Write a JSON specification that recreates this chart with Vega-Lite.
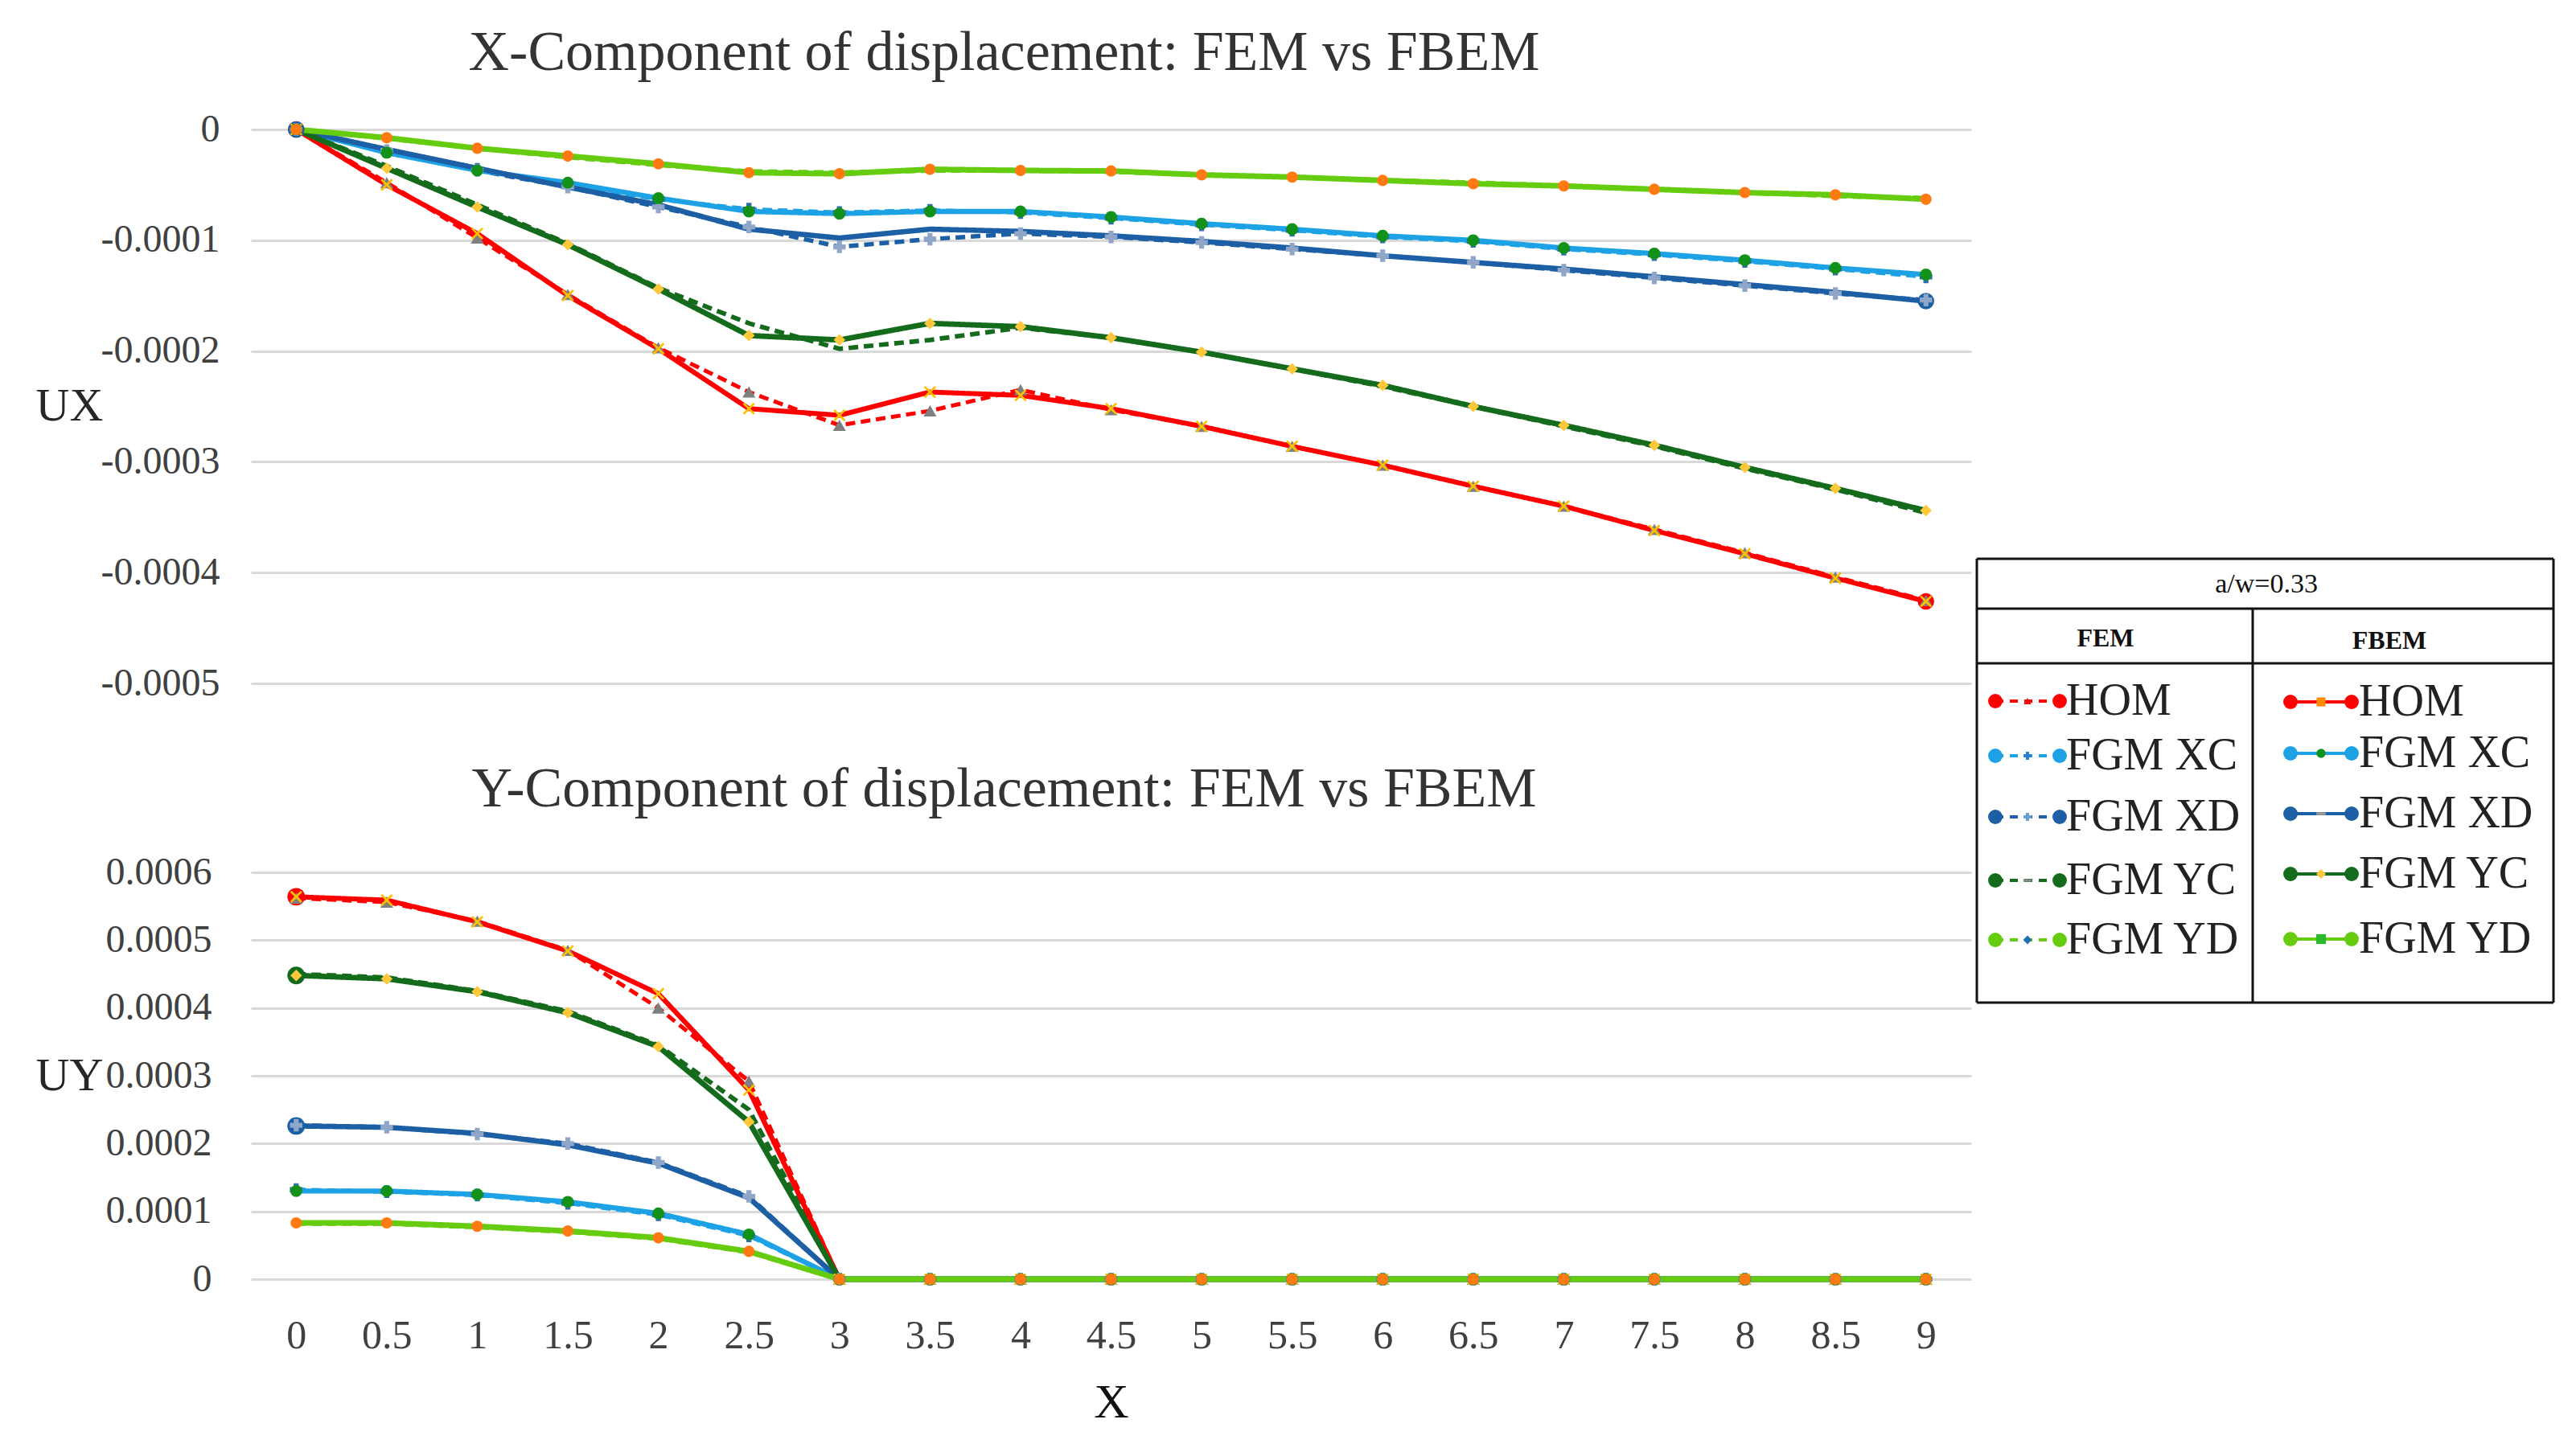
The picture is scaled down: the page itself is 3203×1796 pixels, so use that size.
{
  "$schema": "https://vega.github.io/schema/vega-lite/v6.json",
  "background": "white",
  "padding": {"left": 44, "top": 31, "right": 0, "bottom": 0},
  "config": {
    "view": {"stroke": null},
    "axis": {"domain": false, "ticks": false, "tickSize": 0, "gridColor": "#D9D9D9", "gridWidth": 3, "labelFont": "Liberation Serif", "labelFontSize": 48, "labelColor": "#404040", "titleFont": "Liberation Serif", "titleFontWeight": "normal", "titleColor": "#262626"},
    "title": {"font": "Liberation Serif", "fontSize": 70, "fontWeight": "normal", "color": "#333333", "anchor": "middle"}
  },
  "datasets": {
    "disp": [
      {"c": "UX", "x": 0, "FEM HOM": 0, "FEM XC": 0, "FEM XD": 0, "FEM YC": 0, "FEM YD": 0, "FBEM HOM": 0, "FBEM XC": 0, "FBEM XD": 0, "FBEM YC": 0, "FBEM YD": 0},
      {"c": "UX", "x": 0.5, "FEM HOM": -0.000048, "FEM XC": -0.00002, "FEM XD": -0.000019, "FEM YC": -0.000033, "FEM YD": -0.000008, "FBEM HOM": -0.00005, "FBEM XC": -0.000021, "FBEM XD": -0.000018, "FBEM YC": -0.000035, "FBEM YD": -0.0000075},
      {"c": "UX", "x": 1, "FEM HOM": -0.000098, "FEM XC": -0.000036, "FEM XD": -0.000037, "FEM YC": -0.000068, "FEM YD": -0.000017, "FBEM HOM": -0.000094, "FBEM XC": -0.000037, "FBEM XD": -0.000035, "FBEM YC": -0.00007, "FBEM YD": -0.000017},
      {"c": "UX", "x": 1.5, "FEM HOM": -0.000149, "FEM XC": -0.00005, "FEM XD": -0.000052, "FEM YC": -0.000103, "FEM YD": -0.000025, "FBEM HOM": -0.00015, "FBEM XC": -0.000048, "FBEM XD": -0.000052, "FBEM YC": -0.000104, "FBEM YD": -0.000024},
      {"c": "UX", "x": 2, "FEM HOM": -0.000197, "FEM XC": -0.000063, "FEM XD": -0.00007, "FEM YC": -0.000143, "FEM YD": -0.000032, "FBEM HOM": -0.000198, "FBEM XC": -0.000062, "FBEM XD": -0.000068, "FBEM YC": -0.000144, "FBEM YD": -0.000031},
      {"c": "UX", "x": 2.5, "FEM HOM": -0.000237, "FEM XC": -0.000072, "FEM XD": -0.000088, "FEM YC": -0.000175, "FEM YD": -0.000038, "FBEM HOM": -0.000252, "FBEM XC": -0.000074, "FBEM XD": -0.00009, "FBEM YC": -0.000186, "FBEM YD": -0.000039},
      {"c": "UX", "x": 3, "FEM HOM": -0.000267, "FEM XC": -0.000075, "FEM XD": -0.000106, "FEM YC": -0.000198, "FEM YD": -0.000039, "FBEM HOM": -0.000258, "FBEM XC": -0.000076, "FBEM XD": -0.000098, "FBEM YC": -0.00019, "FBEM YD": -0.00004},
      {"c": "UX", "x": 3.5, "FEM HOM": -0.000254, "FEM XC": -0.000073, "FEM XD": -0.000099, "FEM YC": -0.00019, "FEM YD": -0.000037, "FBEM HOM": -0.000237, "FBEM XC": -0.000074, "FBEM XD": -0.00009, "FBEM YC": -0.000175, "FBEM YD": -0.000036},
      {"c": "UX", "x": 4, "FEM HOM": -0.000235, "FEM XC": -0.000075, "FEM XD": -0.000094, "FEM YC": -0.000179, "FEM YD": -0.000037, "FBEM HOM": -0.00024, "FBEM XC": -0.000074, "FBEM XD": -0.000092, "FBEM YC": -0.000178, "FBEM YD": -0.000037},
      {"c": "UX", "x": 4.5, "FEM HOM": -0.000253, "FEM XC": -0.00008, "FEM XD": -0.000097, "FEM YC": -0.000188, "FEM YD": -0.000038, "FBEM HOM": -0.000252, "FBEM XC": -0.000079, "FBEM XD": -0.000096, "FBEM YC": -0.000188, "FBEM YD": -0.0000375},
      {"c": "UX", "x": 5, "FEM HOM": -0.000268, "FEM XC": -0.000086, "FEM XD": -0.000102, "FEM YC": -0.000201, "FEM YD": -0.000041, "FBEM HOM": -0.000268, "FBEM XC": -0.000085, "FBEM XD": -0.000101, "FBEM YC": -0.000201, "FBEM YD": -0.000041},
      {"c": "UX", "x": 5.5, "FEM HOM": -0.000286, "FEM XC": -0.000091, "FEM XD": -0.000108, "FEM YC": -0.000216, "FEM YD": -0.000043, "FBEM HOM": -0.000286, "FBEM XC": -0.00009, "FBEM XD": -0.000107, "FBEM YC": -0.000216, "FBEM YD": -0.000043},
      {"c": "UX", "x": 6, "FEM HOM": -0.000303, "FEM XC": -0.000097, "FEM XD": -0.000114, "FEM YC": -0.000232, "FEM YD": -0.000046, "FBEM HOM": -0.000303, "FBEM XC": -0.000096, "FBEM XD": -0.000114, "FBEM YC": -0.000231, "FBEM YD": -0.000046},
      {"c": "UX", "x": 6.5, "FEM HOM": -0.000322, "FEM XC": -0.000101, "FEM XD": -0.00012, "FEM YC": -0.00025, "FEM YD": -0.000048, "FBEM HOM": -0.000322, "FBEM XC": -0.0001, "FBEM XD": -0.00012, "FBEM YC": -0.00025, "FBEM YD": -0.000049},
      {"c": "UX", "x": 7, "FEM HOM": -0.00034, "FEM XC": -0.000108, "FEM XD": -0.000127, "FEM YC": -0.000268, "FEM YD": -0.000051, "FBEM HOM": -0.00034, "FBEM XC": -0.000107, "FBEM XD": -0.000126, "FBEM YC": -0.000267, "FBEM YD": -0.000051},
      {"c": "UX", "x": 7.5, "FEM HOM": -0.000361, "FEM XC": -0.000113, "FEM XD": -0.000134, "FEM YC": -0.000286, "FEM YD": -0.000054, "FBEM HOM": -0.000362, "FBEM XC": -0.000112, "FBEM XD": -0.000133, "FBEM YC": -0.000285, "FBEM YD": -0.000054},
      {"c": "UX", "x": 8, "FEM HOM": -0.000382, "FEM XC": -0.000119, "FEM XD": -0.000141, "FEM YC": -0.000306, "FEM YD": -0.000057, "FBEM HOM": -0.000383, "FBEM XC": -0.000118, "FBEM XD": -0.00014, "FBEM YC": -0.000305, "FBEM YD": -0.000057},
      {"c": "UX", "x": 8.5, "FEM HOM": -0.000404, "FEM XC": -0.000126, "FEM XD": -0.000148, "FEM YC": -0.000325, "FEM YD": -0.00006, "FBEM HOM": -0.000405, "FBEM XC": -0.000125, "FBEM XD": -0.000147, "FBEM YC": -0.000324, "FBEM YD": -0.000059},
      {"c": "UX", "x": 9, "FEM HOM": -0.000425, "FEM XC": -0.000133, "FEM XD": -0.000154, "FEM YC": -0.000346, "FEM YD": -0.000062, "FBEM HOM": -0.000426, "FBEM XC": -0.000131, "FBEM XD": -0.000155, "FBEM YC": -0.000344, "FBEM YD": -0.000063},
      {"c": "UY", "x": 0, "FEM HOM": 0.000562, "FEM XC": 0.000132, "FEM XD": 0.000227, "FEM YC": 0.00045, "FEM YD": 0.000082, "FBEM HOM": 0.000564, "FBEM XC": 0.00013, "FBEM XD": 0.000226, "FBEM YC": 0.000448, "FBEM YD": 0.000083},
      {"c": "UY", "x": 0.5, "FEM HOM": 0.000556, "FEM XC": 0.000129, "FEM XD": 0.000224, "FEM YC": 0.000445, "FEM YD": 0.000082, "FBEM HOM": 0.000559, "FBEM XC": 0.00013, "FBEM XD": 0.000224, "FBEM YC": 0.000443, "FBEM YD": 0.000083},
      {"c": "UY", "x": 1, "FEM HOM": 0.000528, "FEM XC": 0.000124, "FEM XD": 0.000214, "FEM YC": 0.000425, "FEM YD": 0.000077, "FBEM HOM": 0.000527, "FBEM XC": 0.000125, "FBEM XD": 0.000215, "FBEM YC": 0.000424, "FBEM YD": 0.000078},
      {"c": "UY", "x": 1.5, "FEM HOM": 0.000485, "FEM XC": 0.000112, "FEM XD": 0.0002, "FEM YC": 0.000395, "FEM YD": 0.00007, "FBEM HOM": 0.000484, "FBEM XC": 0.000114, "FBEM XD": 0.000198, "FBEM YC": 0.000393, "FBEM YD": 0.000071},
      {"c": "UY", "x": 2, "FEM HOM": 0.0004, "FEM XC": 0.000095, "FEM XD": 0.000172, "FEM YC": 0.000345, "FEM YD": 0.00006, "FBEM HOM": 0.000421, "FBEM XC": 0.000097, "FBEM XD": 0.000171, "FBEM YC": 0.000343, "FBEM YD": 0.000061},
      {"c": "UY", "x": 2.5, "FEM HOM": 0.000292, "FEM XC": 0.000064, "FEM XD": 0.000122, "FEM YC": 0.00025, "FEM YD": 0.00004, "FBEM HOM": 0.000279, "FBEM XC": 0.000066, "FBEM XD": 0.00012, "FBEM YC": 0.000232, "FBEM YD": 0.000041},
      {"c": "UY", "x": 3, "FEM HOM": 0, "FEM XC": 0, "FEM XD": 0, "FEM YC": 0, "FEM YD": 0, "FBEM HOM": 0, "FBEM XC": 0, "FBEM XD": 0, "FBEM YC": 0, "FBEM YD": 0},
      {"c": "UY", "x": 3.5, "FEM HOM": 0, "FEM XC": 0, "FEM XD": 0, "FEM YC": 0, "FEM YD": 0, "FBEM HOM": 0, "FBEM XC": 0, "FBEM XD": 0, "FBEM YC": 0, "FBEM YD": 0},
      {"c": "UY", "x": 4, "FEM HOM": 0, "FEM XC": 0, "FEM XD": 0, "FEM YC": 0, "FEM YD": 0, "FBEM HOM": 0, "FBEM XC": 0, "FBEM XD": 0, "FBEM YC": 0, "FBEM YD": 0},
      {"c": "UY", "x": 4.5, "FEM HOM": 0, "FEM XC": 0, "FEM XD": 0, "FEM YC": 0, "FEM YD": 0, "FBEM HOM": 0, "FBEM XC": 0, "FBEM XD": 0, "FBEM YC": 0, "FBEM YD": 0},
      {"c": "UY", "x": 5, "FEM HOM": 0, "FEM XC": 0, "FEM XD": 0, "FEM YC": 0, "FEM YD": 0, "FBEM HOM": 0, "FBEM XC": 0, "FBEM XD": 0, "FBEM YC": 0, "FBEM YD": 0},
      {"c": "UY", "x": 5.5, "FEM HOM": 0, "FEM XC": 0, "FEM XD": 0, "FEM YC": 0, "FEM YD": 0, "FBEM HOM": 0, "FBEM XC": 0, "FBEM XD": 0, "FBEM YC": 0, "FBEM YD": 0},
      {"c": "UY", "x": 6, "FEM HOM": 0, "FEM XC": 0, "FEM XD": 0, "FEM YC": 0, "FEM YD": 0, "FBEM HOM": 0, "FBEM XC": 0, "FBEM XD": 0, "FBEM YC": 0, "FBEM YD": 0},
      {"c": "UY", "x": 6.5, "FEM HOM": 0, "FEM XC": 0, "FEM XD": 0, "FEM YC": 0, "FEM YD": 0, "FBEM HOM": 0, "FBEM XC": 0, "FBEM XD": 0, "FBEM YC": 0, "FBEM YD": 0},
      {"c": "UY", "x": 7, "FEM HOM": 0, "FEM XC": 0, "FEM XD": 0, "FEM YC": 0, "FEM YD": 0, "FBEM HOM": 0, "FBEM XC": 0, "FBEM XD": 0, "FBEM YC": 0, "FBEM YD": 0},
      {"c": "UY", "x": 7.5, "FEM HOM": 0, "FEM XC": 0, "FEM XD": 0, "FEM YC": 0, "FEM YD": 0, "FBEM HOM": 0, "FBEM XC": 0, "FBEM XD": 0, "FBEM YC": 0, "FBEM YD": 0},
      {"c": "UY", "x": 8, "FEM HOM": 0, "FEM XC": 0, "FEM XD": 0, "FEM YC": 0, "FEM YD": 0, "FBEM HOM": 0, "FBEM XC": 0, "FBEM XD": 0, "FBEM YC": 0, "FBEM YD": 0},
      {"c": "UY", "x": 8.5, "FEM HOM": 0, "FEM XC": 0, "FEM XD": 0, "FEM YC": 0, "FEM YD": 0, "FBEM HOM": 0, "FBEM XC": 0, "FBEM XD": 0, "FBEM YC": 0, "FBEM YD": 0},
      {"c": "UY", "x": 9, "FEM HOM": 0, "FEM XC": 0, "FEM XD": 0, "FEM YC": 0, "FEM YD": 0, "FBEM HOM": 0, "FBEM XC": 0, "FBEM XD": 0, "FBEM YC": 0, "FBEM YD": 0}
    ],
    "legendItems": [
      {"series": "FEM HOM", "label": "HOM", "s1": 2.3, "s2": 10.3, "sm": 6.3, "tx": 11.1, "ly": 17.7},
      {"series": "FEM XC", "label": "FGM XC", "s1": 2.3, "s2": 10.3, "sm": 6.3, "tx": 11.1, "ly": 24.5},
      {"series": "FEM XD", "label": "FGM XD", "s1": 2.3, "s2": 10.3, "sm": 6.3, "tx": 11.1, "ly": 32.1},
      {"series": "FEM YC", "label": "FGM YC", "s1": 2.3, "s2": 10.3, "sm": 6.3, "tx": 11.1, "ly": 40.0},
      {"series": "FEM YD", "label": "FGM YD", "s1": 2.3, "s2": 10.3, "sm": 6.3, "tx": 11.1, "ly": 47.4},
      {"series": "FBEM HOM", "label": "HOM", "s1": 39.0, "s2": 46.6, "sm": 42.8, "tx": 47.5, "ly": 17.8},
      {"series": "FBEM XC", "label": "FGM XC", "s1": 39.0, "s2": 46.6, "sm": 42.8, "tx": 47.5, "ly": 24.2},
      {"series": "FBEM XD", "label": "FGM XD", "s1": 39.0, "s2": 46.6, "sm": 42.8, "tx": 47.5, "ly": 31.7},
      {"series": "FBEM YC", "label": "FGM YC", "s1": 39.0, "s2": 46.6, "sm": 42.8, "tx": 47.5, "ly": 39.2},
      {"series": "FBEM YD", "label": "FGM YD", "s1": 39.0, "s2": 46.6, "sm": 42.8, "tx": 47.5, "ly": 47.3}
    ]
  },
  "resolve": {"scale": {"color": "independent", "strokeDash": "independent", "shape": "independent", "fill": "independent", "size": "independent", "strokeWidth": "independent"}},
  "spacing": 4,
  "hconcat": [
    {
      "spacing": 73,
      "vconcat": [
        {
          "width": 2139,
          "height": 689,
          "title": {"text": "X-Component of displacement: FEM vs FBEM", "dx": -133, "offset": -20, "baseline": "alphabetic"},
          "data": {"name": "disp"},
          "transform": [
            {"filter": "datum.c === 'UX'"},
            {"fold": ["FEM HOM", "FEM XC", "FEM XD", "FEM YC", "FEM YD", "FBEM HOM", "FBEM XC", "FBEM XD", "FBEM YC", "FBEM YD"], "as": ["series", "v"]}
          ],
          "encoding": {
            "x": {"field": "x", "type": "quantitative", "scale": {"domain": [-0.25, 9.25], "nice": false, "zero": false}, "axis": null},
            "y": {
              "field": "v", "type": "quantitative",
              "scale": {"domain": [-0.0005, 0], "nice": false},
              "axis": {
                "values": [0, -0.0001, -0.0002, -0.0003, -0.0004, -0.0005],
                "labelExpr": "datum.value == 0 ? '0' : '-' + format(abs(datum.value), '.4f')",
                "labelPadding": 39,
                "title": "UX", "titleAngle": 0, "titleX": -226, "titleY": 344, "titleAlign": "center", "titleBaseline": "middle", "titleFontSize": 58
              }
            }
          },
          "layer": [
            {
              "mark": {"type": "line", "clip": false},
              "encoding": {
                "color": {"field": "series", "type": "nominal", "legend": null, "scale": {"domain": ["FEM HOM", "FEM XC", "FEM XD", "FEM YC", "FEM YD", "FBEM HOM", "FBEM XC", "FBEM XD", "FBEM YC", "FBEM YD"], "range": ["#FF0000", "#1EA2E6", "#1D5FA5", "#156B1C", "#66CC10", "#FF0000", "#1EA2E6", "#1D5FA5", "#156B1C", "#66CC10"]}},
                "strokeDash": {"field": "series", "type": "nominal", "legend": null, "scale": {"domain": ["FEM HOM", "FEM XC", "FEM XD", "FEM YC", "FEM YD", "FBEM HOM", "FBEM XC", "FBEM XD", "FBEM YC", "FBEM YD"], "range": [[12, 7], [12, 7], [12, 7], [12, 7], [12, 7], [1, 0], [1, 0], [1, 0], [1, 0], [1, 0]]}},
                "strokeWidth": {"field": "series", "type": "ordinal", "legend": null, "scale": {"domain": ["FEM HOM", "FEM XC", "FEM XD", "FEM YC", "FEM YD", "FBEM HOM", "FBEM XC", "FBEM XD", "FBEM YC", "FBEM YD"], "range": [5, 7, 5, 7, 7, 5, 7, 5, 7, 7]}}
              }
            },
            {
              "transform": [{"filter": "indexof(['FBEM HOM','FBEM XD'], datum.series) >= 0 && (datum.x == 0 || datum.x == 9)"}],
              "mark": {"type": "point", "shape": "circle", "filled": true, "opacity": 1, "size": 420, "clip": false},
              "encoding": {
                "color": {"field": "series", "type": "nominal", "legend": null}
              }
            },
            {
              "transform": [{"filter": "indexof(['FEM HOM','FEM XC','FEM XD','FBEM HOM','FBEM XC','FBEM YC','FBEM YD'], datum.series) >= 0"}],
              "mark": {"type": "point", "filled": true, "opacity": 1, "clip": false},
              "encoding": {
                "shape": {"field": "series", "type": "nominal", "legend": null, "scale": {"domain": ["FEM HOM", "FEM XC", "FEM XD", "FBEM HOM", "FBEM XC", "FBEM YC", "FBEM YD"], "range": ["triangle-up", "cross", "cross", "M-1,-0.75L-0.75,-1L0,-0.25L0.75,-1L1,-0.75L0.25,0L1,0.75L0.75,1L0,0.25L-0.75,1L-1,0.75L-0.25,0Z", "circle", "diamond", "circle"]}},
                "fill": {"field": "series", "type": "nominal", "legend": null, "scale": {"domain": ["FEM HOM", "FEM XC", "FEM XD", "FBEM HOM", "FBEM XC", "FBEM YC", "FBEM YD"], "range": ["#7F7F7F", "#2F6FB0", "#8FA6C8", "#FFC000", "#12921A", "#FFC83A", "#FF7A12"]}},
                "size": {"field": "series", "type": "ordinal", "legend": null, "scale": {"domain": ["FEM HOM", "FEM XC", "FEM XD", "FBEM HOM", "FBEM XC", "FBEM YC", "FBEM YD"], "range": [260, 200, 160, 480, 500, 450, 460]}}
              }
            }
          ]
        },
        {
          "width": 2139,
          "height": 506,
          "title": {"text": "Y-Component of displacement: FEM vs FBEM", "dx": -133, "offset": -12, "baseline": "alphabetic"},
          "data": {"name": "disp"},
          "transform": [
            {"filter": "datum.c === 'UY'"},
            {"fold": ["FEM HOM", "FEM XC", "FEM XD", "FEM YC", "FEM YD", "FBEM HOM", "FBEM XC", "FBEM XD", "FBEM YC", "FBEM YD"], "as": ["series", "v"]}
          ],
          "encoding": {
            "x": {
              "field": "x", "type": "quantitative",
              "scale": {"domain": [-0.25, 9.25], "nice": false, "zero": false},
              "axis": {
                "values": [0, 0.5, 1, 1.5, 2, 2.5, 3, 3.5, 4, 4.5, 5, 5.5, 6, 6.5, 7, 7.5, 8, 8.5, 9],
                "labelExpr": "format(datum.value, '~g')",
                "grid": false, "labelPadding": 45, "labelFontSize": 50,
                "title": "X", "titleFontSize": 60, "titlePadding": 29, "titleColor": "#111111"
              }
            },
            "y": {
              "field": "v", "type": "quantitative",
              "scale": {"domain": [0, 0.0006], "nice": false},
              "axis": {
                "values": [0, 0.0001, 0.0002, 0.0003, 0.0004, 0.0005, 0.0006],
                "labelExpr": "datum.value == 0 ? '0' : format(datum.value, '.4f')",
                "labelPadding": 49,
                "title": "UY", "titleAngle": 0, "titleX": -226, "titleY": 253, "titleAlign": "center", "titleBaseline": "middle", "titleFontSize": 58
              }
            }
          },
          "layer": [
            {
              "mark": {"type": "line", "clip": false},
              "encoding": {
                "color": {"field": "series", "type": "nominal", "legend": null, "scale": {"domain": ["FEM HOM", "FEM XC", "FEM XD", "FEM YC", "FEM YD", "FBEM HOM", "FBEM XC", "FBEM XD", "FBEM YC", "FBEM YD"], "range": ["#FF0000", "#1EA2E6", "#1D5FA5", "#156B1C", "#66CC10", "#FF0000", "#1EA2E6", "#1D5FA5", "#156B1C", "#66CC10"]}},
                "strokeDash": {"field": "series", "type": "nominal", "legend": null, "scale": {"domain": ["FEM HOM", "FEM XC", "FEM XD", "FEM YC", "FEM YD", "FBEM HOM", "FBEM XC", "FBEM XD", "FBEM YC", "FBEM YD"], "range": [[12, 7], [12, 7], [12, 7], [12, 7], [12, 7], [1, 0], [1, 0], [1, 0], [1, 0], [1, 0]]}},
                "strokeWidth": {"field": "series", "type": "ordinal", "legend": null, "scale": {"domain": ["FEM HOM", "FEM XC", "FEM XD", "FEM YC", "FEM YD", "FBEM HOM", "FBEM XC", "FBEM XD", "FBEM YC", "FBEM YD"], "range": [5, 7, 5, 7, 7, 5, 7, 5, 7, 7]}}
              }
            },
            {
              "transform": [{"filter": "indexof(['FBEM HOM','FBEM XD','FBEM YC'], datum.series) >= 0 && datum.x == 0"}],
              "mark": {"type": "point", "shape": "circle", "filled": true, "opacity": 1, "size": 480, "clip": false},
              "encoding": {
                "color": {"field": "series", "type": "nominal", "legend": null}
              }
            },
            {
              "transform": [{"filter": "indexof(['FEM HOM','FEM XC','FEM XD','FBEM HOM','FBEM XC','FBEM YC','FBEM YD'], datum.series) >= 0"}],
              "mark": {"type": "point", "filled": true, "opacity": 1, "clip": false},
              "encoding": {
                "shape": {"field": "series", "type": "nominal", "legend": null, "scale": {"domain": ["FEM HOM", "FEM XC", "FEM XD", "FBEM HOM", "FBEM XC", "FBEM YC", "FBEM YD"], "range": ["triangle-up", "cross", "cross", "M-1,-0.75L-0.75,-1L0,-0.25L0.75,-1L1,-0.75L0.25,0L1,0.75L0.75,1L0,0.25L-0.75,1L-1,0.75L-0.25,0Z", "circle", "diamond", "circle"]}},
                "fill": {"field": "series", "type": "nominal", "legend": null, "scale": {"domain": ["FEM HOM", "FEM XC", "FEM XD", "FBEM HOM", "FBEM XC", "FBEM YC", "FBEM YD"], "range": ["#7F7F7F", "#2F6FB0", "#8FA6C8", "#FFC000", "#12921A", "#FFC83A", "#FF7A12"]}},
                "size": {"field": "series", "type": "ordinal", "legend": null, "scale": {"domain": ["FEM HOM", "FEM XC", "FEM XD", "FBEM HOM", "FBEM XC", "FBEM YC", "FBEM YD"], "range": [260, 200, 160, 480, 500, 450, 460]}}
              }
            }
          ]
        }
      ]
    },
    {
      "width": 720,
      "height": 1086,
      "layer": [
        {
          "data": {"values": [
            {"x1": 0, "y1": 0, "x2": 71.7, "y2": 0},
            {"x1": 0, "y1": 6.2, "x2": 71.7, "y2": 6.2},
            {"x1": 0, "y1": 13, "x2": 71.7, "y2": 13},
            {"x1": 0, "y1": 55.2, "x2": 71.7, "y2": 55.2},
            {"x1": 0, "y1": 0, "x2": 0, "y2": 55.2},
            {"x1": 71.7, "y1": 0, "x2": 71.7, "y2": 55.2},
            {"x1": 34.3, "y1": 6.2, "x2": 34.3, "y2": 55.2}
          ]},
          "mark": {"type": "rule", "color": "#111111", "strokeWidth": 3},
          "encoding": {
            "x": {"field": "x1", "type": "quantitative", "scale": {"domain": [-0.3, 71.7], "nice": false, "zero": false}, "axis": null},
            "x2": {"field": "x2"},
            "y": {"field": "y1", "type": "quantitative", "scale": {"domain": [-53.4, 55.2], "nice": false, "zero": false, "reverse": true}, "axis": null},
            "y2": {"field": "y2"}
          }
        },
        {
          "data": {"values": [{"tx": 36.0, "ty": 3.2, "label": "a/w=0.33"}]},
          "mark": {"type": "text", "font": "Liberation Serif", "fontSize": 34, "color": "#111111", "align": "center", "baseline": "middle"},
          "encoding": {
            "x": {"field": "tx", "type": "quantitative"},
            "y": {"field": "ty", "type": "quantitative"},
            "text": {"field": "label"}
          }
        },
        {
          "data": {"values": [{"tx": 16.0, "ty": 9.9, "label": "FEM"}, {"tx": 51.3, "ty": 10.2, "label": "FBEM"}]},
          "mark": {"type": "text", "font": "Liberation Serif", "fontSize": 32, "fontWeight": "bold", "color": "#111111", "align": "center", "baseline": "middle"},
          "encoding": {
            "x": {"field": "tx", "type": "quantitative"},
            "y": {"field": "ty", "type": "quantitative"},
            "text": {"field": "label"}
          }
        },
        {
          "data": {"name": "legendItems"},
          "mark": {"type": "rule", "strokeWidth": 4},
          "encoding": {
            "x": {"field": "s1", "type": "quantitative"},
            "x2": {"field": "s2"},
            "y": {"field": "ly", "type": "quantitative"},
            "color": {"field": "series", "type": "nominal", "legend": null, "scale": {"domain": ["FEM HOM", "FEM XC", "FEM XD", "FEM YC", "FEM YD", "FBEM HOM", "FBEM XC", "FBEM XD", "FBEM YC", "FBEM YD"], "range": ["#FF0000", "#1EA2E6", "#1D5FA5", "#156B1C", "#66CC10", "#FF0000", "#1EA2E6", "#1D5FA5", "#156B1C", "#66CC10"]}},
            "strokeDash": {"field": "series", "type": "nominal", "legend": null, "scale": {"domain": ["FEM HOM", "FEM XC", "FEM XD", "FEM YC", "FEM YD", "FBEM HOM", "FBEM XC", "FBEM XD", "FBEM YC", "FBEM YD"], "range": [[10, 8], [10, 8], [10, 8], [10, 8], [10, 8], [1, 0], [1, 0], [1, 0], [1, 0], [1, 0]]}}
          }
        },
        {
          "data": {"name": "legendItems"},
          "mark": {"type": "point", "shape": "circle", "filled": true, "opacity": 1, "size": 320},
          "encoding": {
            "x": {"field": "s1", "type": "quantitative"},
            "y": {"field": "ly", "type": "quantitative"},
            "color": {"field": "series", "type": "nominal", "legend": null}
          }
        },
        {
          "data": {"name": "legendItems"},
          "mark": {"type": "point", "shape": "circle", "filled": true, "opacity": 1, "size": 320},
          "encoding": {
            "x": {"field": "s2", "type": "quantitative"},
            "y": {"field": "ly", "type": "quantitative"},
            "color": {"field": "series", "type": "nominal", "legend": null}
          }
        },
        {
          "data": {"name": "legendItems"},
          "mark": {"type": "point", "filled": true, "opacity": 1},
          "encoding": {
            "x": {"field": "sm", "type": "quantitative"},
            "y": {"field": "ly", "type": "quantitative"},
            "shape": {"field": "series", "type": "nominal", "legend": null, "scale": {"domain": ["FEM HOM", "FEM XC", "FEM XD", "FEM YC", "FEM YD", "FBEM HOM", "FBEM XC", "FBEM XD", "FBEM YC", "FBEM YD"], "range": ["triangle-up", "cross", "cross", "M-1,-0.3H1V0.3H-1Z", "diamond", "square", "circle", "M-1,-0.3H1V0.3H-1Z", "diamond", "square"]}},
            "fill": {"field": "series", "type": "nominal", "legend": null, "scale": {"domain": ["FEM HOM", "FEM XC", "FEM XD", "FEM YC", "FEM YD", "FBEM HOM", "FBEM XC", "FBEM XD", "FBEM YC", "FBEM YD"], "range": ["#E81010", "#2A7FD0", "#6A9FD0", "#8A8A8A", "#1F70B0", "#FF8C00", "#12921A", "#9A9A9A", "#FFC83A", "#2DB82D"]}},
            "size": {"field": "series", "type": "ordinal", "legend": null, "scale": {"domain": ["FEM HOM", "FEM XC", "FEM XD", "FEM YC", "FEM YD", "FBEM HOM", "FBEM XC", "FBEM XD", "FBEM YC", "FBEM YD"], "range": [90, 150, 100, 120, 150, 180, 300, 120, 200, 300]}}
          }
        },
        {
          "data": {"name": "legendItems"},
          "mark": {"type": "text", "font": "Liberation Serif", "fontSize": 56, "color": "#222222", "align": "left", "baseline": "middle"},
          "encoding": {
            "x": {"field": "tx", "type": "quantitative"},
            "y": {"field": "ly", "type": "quantitative"},
            "text": {"field": "label"}
          }
        }
      ]
    }
  ]
}
